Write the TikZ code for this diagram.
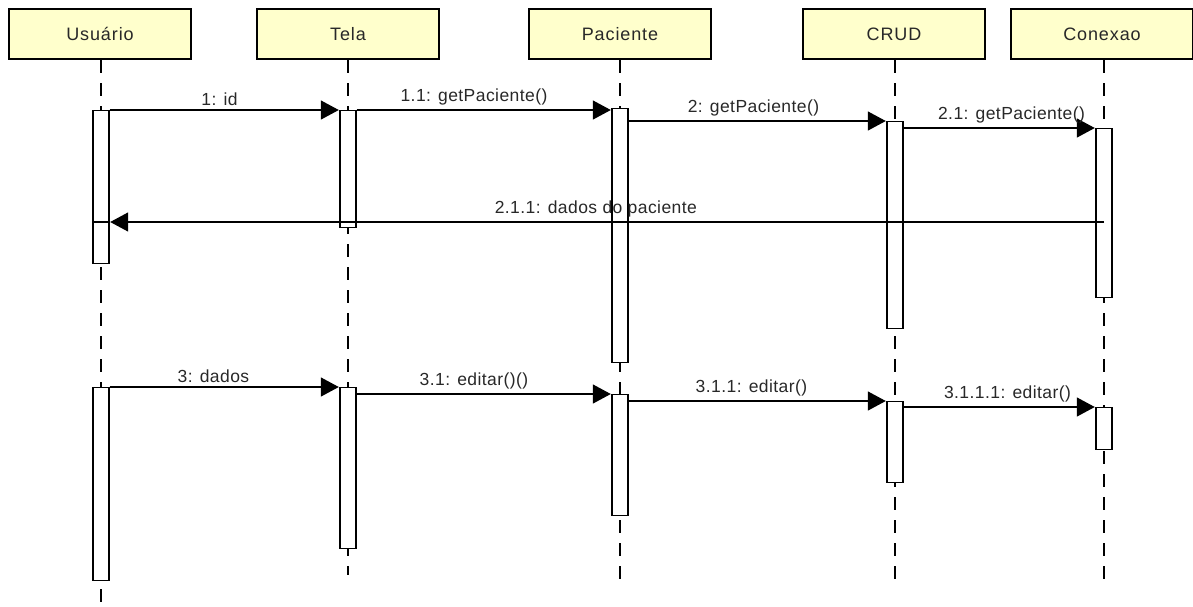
\documentclass[tikz,border=0pt]{standalone}
\usepackage{fontspec}
\setmainfont{Liberation Sans}
\newfontfamily\lblfont[LetterSpace=2.5]{Liberation Sans}
\newfontfamily\hdrfont[LetterSpace=5]{Liberation Sans}
\usetikzlibrary{arrows.meta}
\definecolor{hdrfill}{RGB}{255,255,204}
\definecolor{txt}{RGB}{40,40,40}
\tikzset{
  hdr/.style={draw=black, line width=2.4pt, fill=hdrfill, minimum width=182pt, minimum height=50pt, inner sep=0pt, text=txt, font=\hdrfont\fontsize{18}{21}\selectfont},
  act/.style={draw=black, line width=1.4pt, fill=white, minimum width=16pt, inner sep=0pt, anchor=north},
  life/.style={line width=1.4pt, dash pattern=on 13pt off 10pt},
  msg/.style={line width=1.4pt, -{Triangle[length=18pt,width=19pt]}, shorten >=0.5pt},
  lbl/.style={font=\lblfont\fontsize{17.5}{20}\selectfont, text=txt, inner sep=1pt, above=3pt}
}
\begin{document}
\begin{tikzpicture}[x=1pt,y=-1pt]
\useasboundingbox (0,0) rectangle (1193,606);
% headers
\node[hdr] (U) at (100,34) {Usuário};
\node[hdr] (T) at (348,34) {Tela};
\node[hdr] (P) at (620,34) {Paciente};
\node[hdr] (C) at (894,34) {CRUD};
\node[hdr] (X) at (1102,34) {Conexao};
% lifeline ends
\coordinate (Ue) at (101,606);
\coordinate (Te) at (348,575);
\coordinate (Pe) at (620,585);
\coordinate (Ce) at (895,585);
\coordinate (Xe) at (1104,585);
\draw[life] (U.south -| Ue) -- (Ue);
\draw[life] (T.south -| Te) -- (Te);
\draw[life] (P.south -| Pe) -- (Pe);
\draw[life] (C.south -| Ce) -- (Ce);
\draw[life] (X.south -| Xe) -- (Xe);
% activations
\node[act, minimum height=153pt] (u1) at (101,110) {};
\node[act, minimum height=117pt] (t1) at (348,110) {};
\node[act, minimum height=254pt] (p1) at (620,108) {};
\node[act, minimum height=207pt] (c1) at (895,121) {};
\node[act, minimum height=169pt] (x1) at (1104,128) {};
\node[act, minimum height=193pt] (u2) at (101,387) {};
\node[act, minimum height=161pt] (t2) at (348,387) {};
\node[act, minimum height=121pt] (p2) at (620,394) {};
\node[act, minimum height=81pt] (c2) at (895,401) {};
\node[act, minimum height=42pt] (x2) at (1104,407) {};
% messages
\draw[msg] (u1.north east) -- (t1.north west) node[lbl, midway, xshift=-5pt] {1: id};
\coordinate (m11) at (0,110);
\draw[msg] (t1.east |- m11) -- (p1.west |- m11) node[lbl, midway, xshift=-10pt] {1.1: getPaciente()};
\draw[msg] (p1.east |- c1.north) -- (c1.north west) node[lbl, midway, xshift=-4pt] {2: getPaciente()};
\draw[msg] (c1.east |- x1.north) -- (x1.north west) node[lbl, midway, xshift=12pt] {2.1: getPaciente()};
\coordinate (r) at (0,222);
\draw[line width=1.4pt] (u1.west |- r) -- (u1.east |- r);
\draw[msg] (x1.center |- r) -- (u1.east |- r) node[lbl, midway, xshift=-11pt] {2.1.1: dados do paciente};
\draw[msg] (u2.north east) -- (t2.north west) node[lbl, midway, xshift=-11pt] {3: dados};
\draw[msg] (t2.east |- p2.north) -- (p2.north west) node[lbl, midway, xshift=-10pt] {3.1: editar()()};
\draw[msg] (p2.east |- c2.north) -- (c2.north west) node[lbl, midway, xshift=-6pt] {3.1.1: editar()};
\draw[msg] (c2.east |- x2.north) -- (x2.north west) node[lbl, midway, xshift=8pt] {3.1.1.1: editar()};
\end{tikzpicture}
\end{document}
